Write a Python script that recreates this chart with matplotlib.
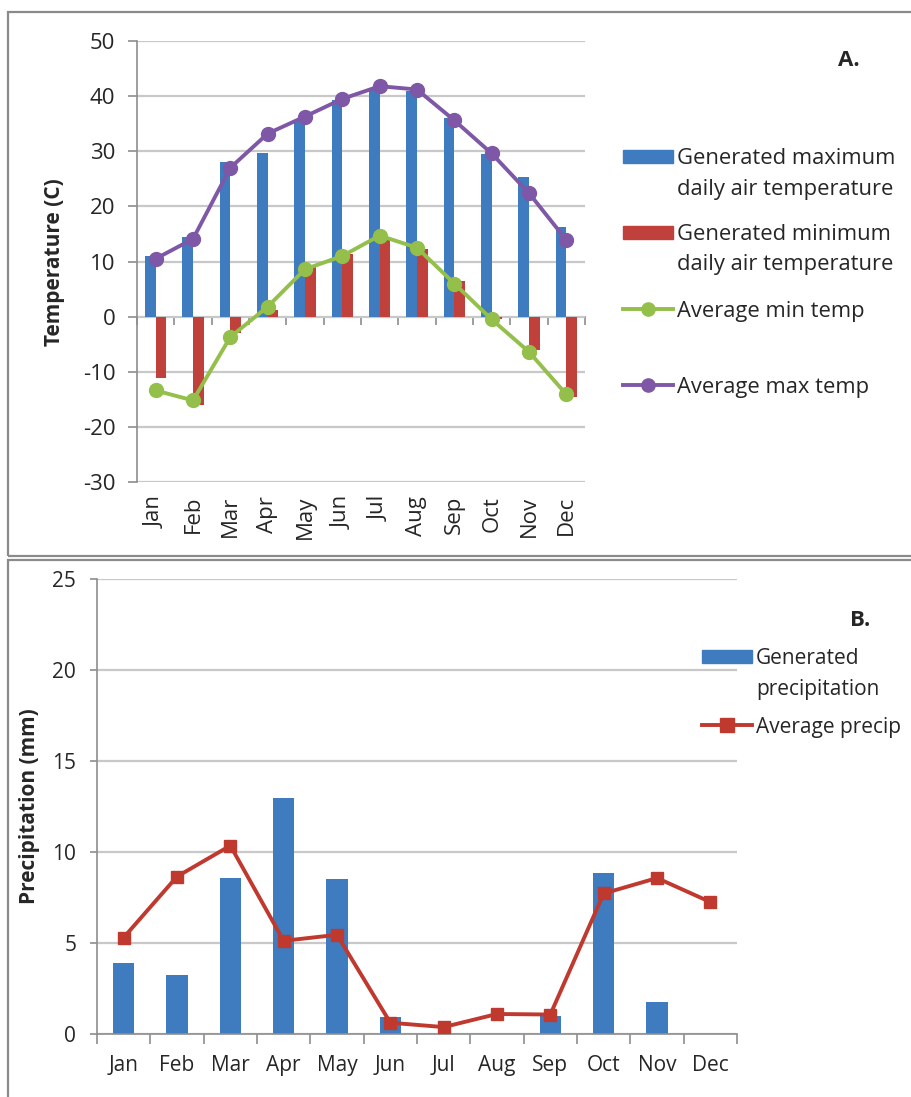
import numpy as np
import matplotlib
matplotlib.use("Agg")
import matplotlib.pyplot as plt
from matplotlib.lines import Line2D
from matplotlib.patches import Rectangle

# Monthly climate data
months = ["Jan", "Feb", "Mar", "Apr", "May", "Jun",
          "Jul", "Aug", "Sep", "Oct", "Nov", "Dec"]
gen_max_temp = [11.0, 14.5, 28.0, 29.7, 35.6, 39.3, 41.3, 41.0, 36.0, 29.5, 25.3, 16.3]
gen_min_temp = [-11.2, -16.0, -3.0, 1.2, 9.0, 11.4, 14.0, 12.2, 6.4, -0.5, -6.0, -14.5]
avg_min_temp = [-13.4, -15.2, -3.7, 1.8, 8.6, 11.0, 14.7, 12.5, 6.0, -0.5, -6.4, -14.1]
avg_max_temp = [10.5, 14.1, 27.0, 33.2, 36.3, 39.5, 41.8, 41.2, 35.6, 29.6, 22.4, 13.9]
gen_precip = [3.9, 3.25, 8.55, 12.95, 8.5, 0.95, 0.0, 0.0, 0.98, 8.85, 1.75, 0.0]
avg_precip = [5.3, 8.65, 10.35, 5.12, 5.45, 0.62, 0.38, 1.1, 1.07, 7.72, 8.57, 7.25]

temp_ticks = list(range(-30, 51, 10))
precip_ticks = list(range(0, 26, 5))

BLUE = "#3E7BBF"
RED = "#C0403C"
GREEN = "#93BF4A"
PURPLE = "#7E58A6"
LINE_RED = "#C0392F"
GRID = "#C8C8C8"
AXIS = "#8E8E8E"
TEXT = "#262626"

plt.rcParams["font.family"] = ["Open Sans", "DejaVu Sans"]
plt.rcParams["text.color"] = TEXT
plt.rcParams["axes.unicode_minus"] = False

W, H = 912, 1097
fig = plt.figure(figsize=(W / 100, H / 100), dpi=100)


def fx(px):
    return px / W


def fy(py):
    return 1 - py / H


def legend_label(x0, yc, label, size, pitch=30):
    # first line sits level with the key, further lines drop below it
    for i, line in enumerate(label.split("\n")):
        fig.text(fx(x0 + 54), fy(yc + 8 + i * pitch), line, fontsize=size,
                 va="baseline", ha="left")


def legend_patch(x0, yc, color, label, size):
    fig.add_artist(Rectangle((fx(x0), fy(yc + 6.5)), 50 / W, 13 / H,
                             transform=fig.transFigure, color=color))
    legend_label(x0, yc, label, size)


def legend_line(x0, yc, color, marker, label, size):
    fig.add_artist(Line2D([fx(x0), fx(x0 + 25), fx(x0 + 50)], [fy(yc)] * 3,
                          transform=fig.transFigure, color=color, lw=2.8,
                          marker=marker, ms=9.5, markevery=[1]))
    legend_label(x0, yc, label, size)


x = np.arange(len(months))

# --- A. temperature panel ---
ax1 = fig.add_axes([fx(137), fy(482), (585 - 137) / W, (482 - 41) / H])
w = 0.286
ax1.bar(x - w / 2, gen_max_temp, w, color=BLUE, zorder=2)
ax1.bar(x + w / 2, gen_min_temp, w, color=RED, zorder=2)
ax1.plot(x, avg_min_temp, color=GREEN, lw=2.8, marker="o", ms=10, zorder=3)
ax1.plot(x, avg_max_temp, color=PURPLE, lw=2.8, marker="o", ms=10, zorder=3)
ax1.set_xlim(-0.5, 11.5)
ax1.set_ylim(-30, 50)
ax1.set_yticks(temp_ticks)
ax1.grid(axis="y", color=GRID, lw=1.6)
ax1.set_axisbelow(True)
for s in ["top", "right", "bottom"]:
    ax1.spines[s].set_visible(False)
ax1.spines["left"].set_color(AXIS)
ax1.spines["left"].set_linewidth(1.2)
ax1.set_xticks(x, months, rotation=90)
ax1.tick_params(axis="x", length=0, pad=10, labelsize=16, labelcolor=TEXT)
ax1.tick_params(axis="y", length=6.5, width=1.2, color=AXIS, pad=9,
                labelsize=16, labelcolor=TEXT)

# category axis crossing at zero
zero_axis = ax1.secondary_xaxis(0.375)
zero_axis.set_xticks(np.arange(-0.5, 12, 1))
zero_axis.set_xticklabels([])
zero_axis.tick_params(length=6, width=1.2, color=AXIS)
zero_axis.spines["bottom"].set_color(AXIS)
zero_axis.spines["bottom"].set_linewidth(1.2)

fig.text(fx(55), fy(262), "Temperature (C)", rotation=90, ha="center",
         va="center", fontsize=15, fontweight="bold")
fig.text(fx(849), fy(60), "A.", ha="center", va="center", fontsize=16,
         fontweight="bold")

legend_patch(623, 156.5, BLUE, "Generated maximum\ndaily air temperature", 15.8)
legend_patch(623, 232, RED, "Generated minimum\ndaily air temperature", 15.8)
legend_line(623, 309, GREEN, "o", "Average min temp", 15.8)
legend_line(623, 385, PURPLE, "o", "Average max temp", 15.8)

# --- B. precipitation panel ---
ax2 = fig.add_axes([fx(97), fy(1034), (737 - 97) / W, (1034 - 579) / H])
ax2.bar(x, gen_precip, 0.4, color=BLUE, zorder=2)
ax2.plot(x, avg_precip, color=LINE_RED, lw=2.8, marker="s", ms=9, zorder=3)
ax2.set_xlim(-0.5, 11.5)
ax2.set_ylim(0, 25)
ax2.set_yticks(precip_ticks)
ax2.grid(axis="y", color=GRID, lw=1.6)
ax2.set_axisbelow(True)
for s in ["top", "right"]:
    ax2.spines[s].set_visible(False)
for s in ["left", "bottom"]:
    ax2.spines[s].set_color(AXIS)
    ax2.spines[s].set_linewidth(1.2)
ax2.set_xticks(x, months)
ax2.set_xticks(np.arange(-0.5, 12, 1), minor=True)
ax2.tick_params(axis="x", which="major", length=0, pad=15, labelsize=15,
                labelcolor=TEXT)
ax2.tick_params(axis="x", which="minor", length=7.5, width=1.2, color=AXIS)
ax2.tick_params(axis="y", length=5, width=1.2, color=AXIS, pad=10,
                labelsize=15, labelcolor=TEXT)

fig.text(fx(30), fy(806), "Precipitation (mm)", rotation=90, ha="center",
         va="center", fontsize=15, fontweight="bold")
fig.text(fx(860), fy(620), "B.", ha="center", va="center", fontsize=16,
         fontweight="bold")

legend_patch(702, 656.5, BLUE, "Generated\nprecipitation", 15)
legend_line(702, 725, LINE_RED, "s", "Average precip", 15)

# panel frames
fig.add_artist(Rectangle((fx(8), fy(556)), 1.0, (556 - 12) / H,
                         transform=fig.transFigure, fill=False,
                         edgecolor="#8A8A8A", lw=1.6))
fig.add_artist(Rectangle((fx(8), -0.1), 1.0, fy(560) + 0.1,
                         transform=fig.transFigure, fill=False,
                         edgecolor="#8A8A8A", lw=1.6))

fig.savefig("out.png", dpi=100)
